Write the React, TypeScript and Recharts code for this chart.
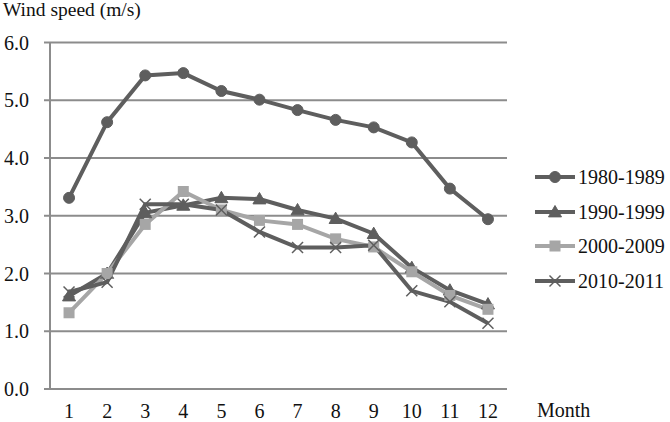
import React from "react";
import {
  LineChart,
  Line,
  XAxis,
  YAxis,
  CartesianGrid,
  Legend,
  Label,
} from "recharts";

const months = [1, 2, 3, 4, 5, 6, 7, 8, 9, 10, 11, 12];
const s1980 = [3.31, 4.62, 5.43, 5.47, 5.16, 5.01, 4.83, 4.66, 4.53, 4.27, 3.47, 2.94];
const s1990 = [1.61, 2.0, 3.05, 3.18, 3.31, 3.29, 3.1, 2.95, 2.69, 2.1, 1.71, 1.47];
const s2000 = [1.32, 2.0, 2.85, 3.42, 3.1, 2.92, 2.85, 2.6, 2.46, 2.03, 1.62, 1.38];
const s2010 = [1.68, 1.85, 3.2, 3.2, 3.1, 2.72, 2.45, 2.45, 2.49, 1.7, 1.51, 1.14];
const seriesNames = ["1980-1989", "1990-1999", "2000-2009", "2010-2011"];
const yTicks = [0, 1, 2, 3, 4, 5, 6];
const xBoundaryTicks = [0.5, 1.5, 2.5, 3.5, 4.5, 5.5, 6.5, 7.5, 8.5, 9.5, 10.5, 11.5, 12.5];
const yTitle = "Wind speed (m/s)";
const xTitle = "Month";

const data = months.map((m, i) => ({
  month: m,
  a: s1980[i],
  b: s1990[i],
  c: s2000[i],
  d: s2010[i],
}));

const DARK = "#5e5e5e";
const LIGHT = "#a6a6a6";
const AXIS = "#8c8c8c";
const FONT = "'Liberation Serif', 'Times New Roman', serif";

type Marker = "circle" | "triangle" | "square" | "cross";

const seriesDefs: { key: string; name: string; color: string; marker: Marker }[] = [
  { key: "a", name: seriesNames[0], color: DARK, marker: "circle" },
  { key: "b", name: seriesNames[1], color: DARK, marker: "triangle" },
  { key: "c", name: seriesNames[2], color: LIGHT, marker: "square" },
  { key: "d", name: seriesNames[3], color: DARK, marker: "cross" },
];

function drawMarker(marker: Marker, cx: number, cy: number, color: string, key?: any) {
  if (cx == null || cy == null || isNaN(cx) || isNaN(cy)) return <g key={key} />;
  switch (marker) {
    case "circle":
      return <circle key={key} cx={cx} cy={cy} r={5.5} fill={color} stroke={color} strokeWidth={1} />;
    case "triangle": {
      const s = 6.5;
      const pts = `${cx},${cy - s} ${cx + s},${cy + s * 0.75} ${cx - s},${cy + s * 0.75}`;
      return <polygon key={key} points={pts} fill={color} stroke={color} strokeWidth={1} />;
    }
    case "square":
      return <rect key={key} x={cx - 5.5} y={cy - 5.5} width={11} height={11} fill={color} />;
    case "cross":
    default: {
      const s = 5.5;
      return (
        <g key={key}>
          <line x1={cx - s} y1={cy - s} x2={cx + s} y2={cy + s} stroke={color} strokeWidth={1.5} />
          <line x1={cx - s} y1={cy + s} x2={cx + s} y2={cy - s} stroke={color} strokeWidth={1.5} />
        </g>
      );
    }
  }
}

const LegendContent = () => (
  <div style={{ fontFamily: FONT, fontSize: 20, color: "#111" }}>
    {seriesDefs.map((s) => (
      <div key={s.key} style={{ display: "flex", alignItems: "center", height: 34.5 }}>
        <svg width={42} height={20} style={{ display: "block" }}>
          <line x1={0} y1={10} x2={40} y2={10} stroke={s.color} strokeWidth={4} />
          {drawMarker(s.marker, 20, 10, s.color)}
        </svg>
        <span style={{ marginLeft: 1, lineHeight: "20px", whiteSpace: "nowrap" }}>{s.name}</span>
      </div>
    ))}
  </div>
);

export default function App() {
  return (
    <div style={{ position: "absolute", left: 0, top: 0, width: 670, height: 422, background: "#fff" }}>
      <LineChart
        width={670}
        height={422}
        data={data}
        margin={{ top: 42.5, right: 163, bottom: 0, left: 0 }}
      >
        <CartesianGrid vertical={false} stroke={AXIS} strokeWidth={2} />
        <XAxis
          xAxisId="ticks"
          dataKey="month"
          type="number"
          domain={[0.5, 12.5]}
          ticks={xBoundaryTicks}
          tick={false}
          height={0}
          axisLine={{ stroke: AXIS, strokeWidth: 2 }}
          tickLine={{ stroke: AXIS, strokeWidth: 2 }}
          tickSize={6}
        />
        <XAxis
          xAxisId="labels"
          dataKey="month"
          type="number"
          domain={[0.5, 12.5]}
          ticks={months}
          interval={0}
          height={33}
          axisLine={false}
          tickLine={false}
          tickSize={0}
          tickMargin={15}
          tick={{ fill: "#111", fontSize: 20, fontFamily: FONT }}
        >
          <Label
            content={(props: any) => {
              const vb = props.viewBox || {};
              return (
                <text
                  x={(vb.x || 0) + (vb.width || 0) + 30}
                  y={(vb.y || 0) + 27.5}
                  fill="#111"
                  fontSize={20}
                  fontFamily={FONT}
                >
                  {xTitle}
                </text>
              );
            }}
          />
        </XAxis>
        <YAxis
          domain={[0, 6]}
          ticks={yTicks}
          width={50}
          interval={0}
          tickFormatter={(v: number) => v.toFixed(1)}
          axisLine={{ stroke: AXIS, strokeWidth: 2 }}
          tickLine={{ stroke: AXIS, strokeWidth: 2 }}
          tickSize={6}
          tickMargin={15}
          tick={{ fill: "#111", fontSize: 20, fontFamily: FONT }}
        >
          <Label
            content={(props: any) => {
              const vb = props.viewBox || {};
              return (
                <text x={3} y={(vb.y || 0) - 26.5} fill="#111" fontSize={19.5} fontFamily={FONT}>
                  {yTitle}
                </text>
              );
            }}
          />
        </YAxis>
        {seriesDefs.map((s) => (
          <Line
            key={s.key}
            xAxisId="ticks"
            dataKey={s.key}
            name={s.name}
            stroke={s.color}
            strokeWidth={4}
            type="linear"
            isAnimationActive={false}
            dot={(p: any) => drawMarker(s.marker, p.cx, p.cy, s.color, `${s.key}-${p.index}`)}
            activeDot={false}
          />
        ))}
        <Legend
          layout="vertical"
          align="center"
          verticalAlign="middle"
          content={<LegendContent />}
          wrapperStyle={{ left: 535, top: 160, width: 135 }}
        />
      </LineChart>
    </div>
  );
}
